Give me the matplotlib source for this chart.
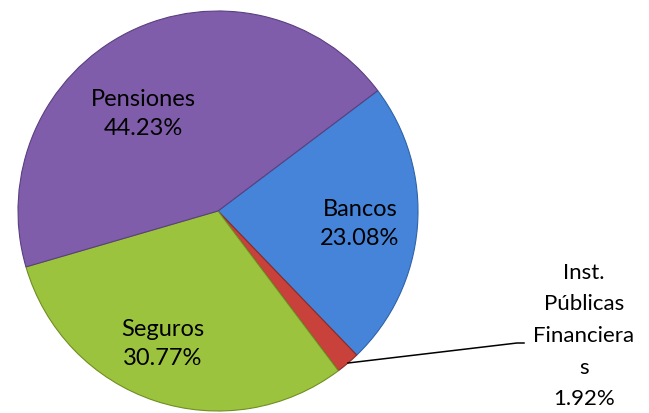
import matplotlib.pyplot as plt

### Data

sectors = ["Bancos", "Inst.\nPúblicas\nFinanciera\ns", "Seguros", "Pensiones"]
shares = [23.08, 1.92, 30.77, 44.23]
colors = ["#4584D8", "#C8413B", "#9CC33E", "#7F5DAA"]
edges = ["#2F63A8", "#8E2A25", "#6F8F22", "#5B3F80"]

### Figure in pixel units

W, H = 649, 414
fig = plt.figure(figsize=(W / 100, H / 100), dpi=100)
ax = fig.add_axes([0, 0, 1, 1])

cx, cy, R = 218, H - 212, 200

wedges, _ = ax.pie(shares, colors=colors, startangle=37, counterclock=False,
                   center=(cx, cy), radius=R, frame=True,
                   wedgeprops=dict(linewidth=0.8))
for w, ec in zip(wedges, edges):
    w.set_edgecolor(ec)
ax.set_xlim(0, W)
ax.set_ylim(0, H)
ax.set_aspect("equal")
ax.axis("off")

font = dict(family=["Lato", "DejaVu Sans"], fontsize=17, color="black",
            ha="center", va="center", linespacing=1.5)

# inside labels: (x, y) in pixels from top-left
inside = {0: (360, 224), 2: (163, 344), 3: (143, 114)}
for i, (x, y) in inside.items():
    ax.text(x, H - y, f"{sectors[i]}\n{shares[i]:.2f}%", **font)

# small slice, outside with leader line
ax.plot([348, 517, 524], [H - 364, H - 344, H - 344], color="black", lw=1.1)
outside = dict(font, fontsize=16, linespacing=1.72)
ax.text(584, H - 336, f"{sectors[1]}\n{shares[1]:.2f}%", **outside)

fig.savefig("out.png", dpi=100)
